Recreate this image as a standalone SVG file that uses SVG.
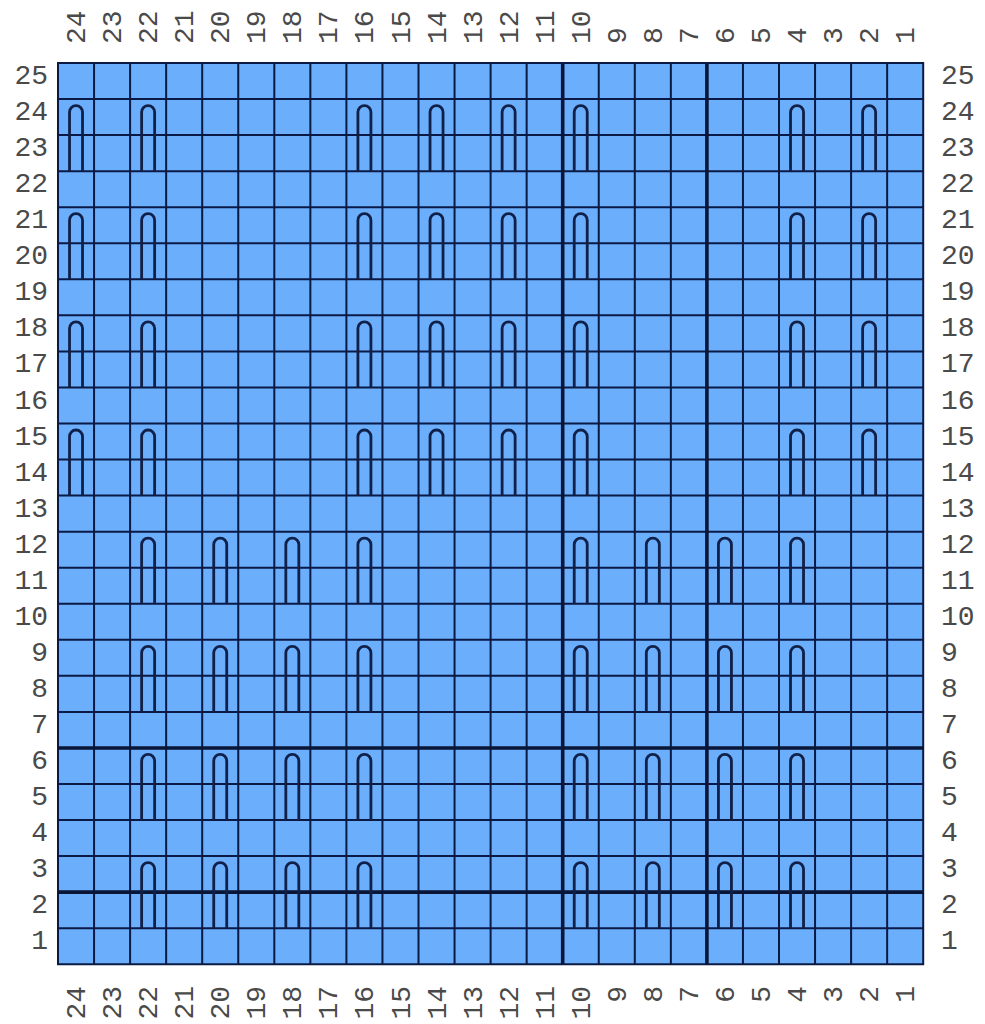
<svg xmlns="http://www.w3.org/2000/svg" width="985" height="1024" viewBox="0 0 985 1024">
<style>
.lbl{font-family:"Liberation Mono","DejaVu Sans Mono",monospace;font-size:28px;fill:#4a4a4a}
.l{text-anchor:end}
.r{text-anchor:start}
.grid{fill:none;stroke:#0b1a44;stroke-width:2}
.thick{fill:none;stroke:#0a1638;stroke-width:3.6}
.st{fill:none;stroke:#112048;stroke-width:2.8}
</style>
<defs>
<path id="arch" class="st" d="M-6.5,72 V13 A6.5,6.5 0 0 1 6.5,13 V72"/>
</defs>
<rect width="985" height="1024" fill="#ffffff"/>
<g id="chart">
<rect x="58" y="63" width="865.2" height="901.25" fill="#6aaefc"/>
<path class="grid" d="M94.05,63V964.25M130.1,63V964.25M166.15,63V964.25M202.2,63V964.25M238.25,63V964.25M274.3,63V964.25M310.35,63V964.25M346.4,63V964.25M382.45,63V964.25M418.5,63V964.25M454.55,63V964.25M490.6,63V964.25M526.65,63V964.25M598.75,63V964.25M634.8,63V964.25M670.85,63V964.25M742.95,63V964.25M779,63V964.25M815.05,63V964.25M851.1,63V964.25M887.15,63V964.25
M58,99.05H923.2M58,135.1H923.2M58,171.15H923.2M58,207.2H923.2M58,243.25H923.2M58,279.3H923.2M58,315.35H923.2M58,351.4H923.2M58,387.45H923.2M58,423.5H923.2M58,459.55H923.2M58,495.6H923.2M58,531.65H923.2M58,567.7H923.2M58,603.75H923.2M58,639.8H923.2M58,675.85H923.2M58,711.9H923.2M58,784H923.2M58,820.05H923.2M58,856.1H923.2M58,928.2H923.2"/>
<rect class="grid" x="58" y="63" width="865.2" height="901.25"/>
<path class="thick" d="M562.7,63V964.25M706.9,63V964.25M58,747.95H923.2M58,892.15H923.2"/>
</g>
<g id="stitches">
<g id="upper">
<use href="#arch" x="76.03" y="99.05"/><use href="#arch" x="148.13" y="99.05"/><use href="#arch" x="364.43" y="99.05"/><use href="#arch" x="436.53" y="99.05"/><use href="#arch" x="508.63" y="99.05"/><use href="#arch" x="580.73" y="99.05"/><use href="#arch" x="797.03" y="99.05"/><use href="#arch" x="869.13" y="99.05"/>
<use href="#arch" x="76.03" y="207.2"/><use href="#arch" x="148.13" y="207.2"/><use href="#arch" x="364.43" y="207.2"/><use href="#arch" x="436.53" y="207.2"/><use href="#arch" x="508.63" y="207.2"/><use href="#arch" x="580.73" y="207.2"/><use href="#arch" x="797.03" y="207.2"/><use href="#arch" x="869.13" y="207.2"/>
<use href="#arch" x="76.03" y="315.35"/><use href="#arch" x="148.13" y="315.35"/><use href="#arch" x="364.43" y="315.35"/><use href="#arch" x="436.53" y="315.35"/><use href="#arch" x="508.63" y="315.35"/><use href="#arch" x="580.73" y="315.35"/><use href="#arch" x="797.03" y="315.35"/><use href="#arch" x="869.13" y="315.35"/>
<use href="#arch" x="76.03" y="423.5"/><use href="#arch" x="148.13" y="423.5"/><use href="#arch" x="364.43" y="423.5"/><use href="#arch" x="436.53" y="423.5"/><use href="#arch" x="508.63" y="423.5"/><use href="#arch" x="580.73" y="423.5"/><use href="#arch" x="797.03" y="423.5"/><use href="#arch" x="869.13" y="423.5"/>
</g>
<g id="lower">
<use href="#arch" x="148.13" y="531.65"/><use href="#arch" x="220.23" y="531.65"/><use href="#arch" x="292.33" y="531.65"/><use href="#arch" x="364.43" y="531.65"/><use href="#arch" x="580.73" y="531.65"/><use href="#arch" x="652.83" y="531.65"/><use href="#arch" x="724.93" y="531.65"/><use href="#arch" x="797.03" y="531.65"/>
<use href="#arch" x="148.13" y="639.8"/><use href="#arch" x="220.23" y="639.8"/><use href="#arch" x="292.33" y="639.8"/><use href="#arch" x="364.43" y="639.8"/><use href="#arch" x="580.73" y="639.8"/><use href="#arch" x="652.83" y="639.8"/><use href="#arch" x="724.93" y="639.8"/><use href="#arch" x="797.03" y="639.8"/>
<use href="#arch" x="148.13" y="747.95"/><use href="#arch" x="220.23" y="747.95"/><use href="#arch" x="292.33" y="747.95"/><use href="#arch" x="364.43" y="747.95"/><use href="#arch" x="580.73" y="747.95"/><use href="#arch" x="652.83" y="747.95"/><use href="#arch" x="724.93" y="747.95"/><use href="#arch" x="797.03" y="747.95"/>
<use href="#arch" x="148.13" y="856.1"/><use href="#arch" x="220.23" y="856.1"/><use href="#arch" x="292.33" y="856.1"/><use href="#arch" x="364.43" y="856.1"/><use href="#arch" x="580.73" y="856.1"/><use href="#arch" x="652.83" y="856.1"/><use href="#arch" x="724.93" y="856.1"/><use href="#arch" x="797.03" y="856.1"/>
</g>
</g>
<g id="row-labels-left" class="lbl l">
<text x="48" y="84.0">25</text><text x="48" y="120.1">24</text><text x="48" y="156.1">23</text><text x="48" y="192.2">22</text><text x="48" y="228.2">21</text><text x="48" y="264.3">20</text><text x="48" y="300.3">19</text><text x="48" y="336.4">18</text><text x="48" y="372.4">17</text><text x="48" y="408.5">16</text><text x="48" y="444.5">15</text><text x="48" y="480.6">14</text><text x="48" y="516.6">13</text><text x="48" y="552.7">12</text><text x="48" y="588.7">11</text><text x="48" y="624.8">10</text><text x="48" y="660.8">9</text><text x="48" y="696.9">8</text><text x="48" y="732.9">7</text><text x="48" y="769.0">6</text><text x="48" y="805.0">5</text><text x="48" y="841.1">4</text><text x="48" y="877.1">3</text><text x="48" y="913.2">2</text><text x="48" y="949.2">1</text>
</g>
<g id="row-labels-right" class="lbl r">
<text x="941" y="84.0">25</text><text x="941" y="120.1">24</text><text x="941" y="156.1">23</text><text x="941" y="192.2">22</text><text x="941" y="228.2">21</text><text x="941" y="264.3">20</text><text x="941" y="300.3">19</text><text x="941" y="336.4">18</text><text x="941" y="372.4">17</text><text x="941" y="408.5">16</text><text x="941" y="444.5">15</text><text x="941" y="480.6">14</text><text x="941" y="516.6">13</text><text x="941" y="552.7">12</text><text x="941" y="588.7">11</text><text x="941" y="624.8">10</text><text x="941" y="660.8">9</text><text x="941" y="696.9">8</text><text x="941" y="732.9">7</text><text x="941" y="769.0">6</text><text x="941" y="805.0">5</text><text x="941" y="841.1">4</text><text x="941" y="877.1">3</text><text x="941" y="913.2">2</text><text x="941" y="949.2">1</text>
</g>
<g id="col-labels-top" class="lbl r">
<text transform="translate(85.0,44) rotate(-90)">24</text><text transform="translate(121.1,44) rotate(-90)">23</text><text transform="translate(157.1,44) rotate(-90)">22</text><text transform="translate(193.2,44) rotate(-90)">21</text><text transform="translate(229.2,44) rotate(-90)">20</text><text transform="translate(265.3,44) rotate(-90)">19</text><text transform="translate(301.3,44) rotate(-90)">18</text><text transform="translate(337.4,44) rotate(-90)">17</text><text transform="translate(373.4,44) rotate(-90)">16</text><text transform="translate(409.5,44) rotate(-90)">15</text><text transform="translate(445.5,44) rotate(-90)">14</text><text transform="translate(481.6,44) rotate(-90)">13</text><text transform="translate(517.6,44) rotate(-90)">12</text><text transform="translate(553.7,44) rotate(-90)">11</text><text transform="translate(589.7,44) rotate(-90)">10</text><text transform="translate(625.8,44) rotate(-90)">9</text><text transform="translate(661.8,44) rotate(-90)">8</text><text transform="translate(697.9,44) rotate(-90)">7</text><text transform="translate(733.9,44) rotate(-90)">6</text><text transform="translate(770.0,44) rotate(-90)">5</text><text transform="translate(806.0,44) rotate(-90)">4</text><text transform="translate(842.1,44) rotate(-90)">3</text><text transform="translate(878.1,44) rotate(-90)">2</text><text transform="translate(914.2,44) rotate(-90)">1</text>
</g>
<g id="col-labels-bottom" class="lbl l">
<text transform="translate(85.0,986) rotate(-90)">24</text><text transform="translate(121.1,986) rotate(-90)">23</text><text transform="translate(157.1,986) rotate(-90)">22</text><text transform="translate(193.2,986) rotate(-90)">21</text><text transform="translate(229.2,986) rotate(-90)">20</text><text transform="translate(265.3,986) rotate(-90)">19</text><text transform="translate(301.3,986) rotate(-90)">18</text><text transform="translate(337.4,986) rotate(-90)">17</text><text transform="translate(373.4,986) rotate(-90)">16</text><text transform="translate(409.5,986) rotate(-90)">15</text><text transform="translate(445.5,986) rotate(-90)">14</text><text transform="translate(481.6,986) rotate(-90)">13</text><text transform="translate(517.6,986) rotate(-90)">12</text><text transform="translate(553.7,986) rotate(-90)">11</text><text transform="translate(589.7,986) rotate(-90)">10</text><text transform="translate(625.8,986) rotate(-90)">9</text><text transform="translate(661.8,986) rotate(-90)">8</text><text transform="translate(697.9,986) rotate(-90)">7</text><text transform="translate(733.9,986) rotate(-90)">6</text><text transform="translate(770.0,986) rotate(-90)">5</text><text transform="translate(806.0,986) rotate(-90)">4</text><text transform="translate(842.1,986) rotate(-90)">3</text><text transform="translate(878.1,986) rotate(-90)">2</text><text transform="translate(914.2,986) rotate(-90)">1</text>
</g>
</svg>
